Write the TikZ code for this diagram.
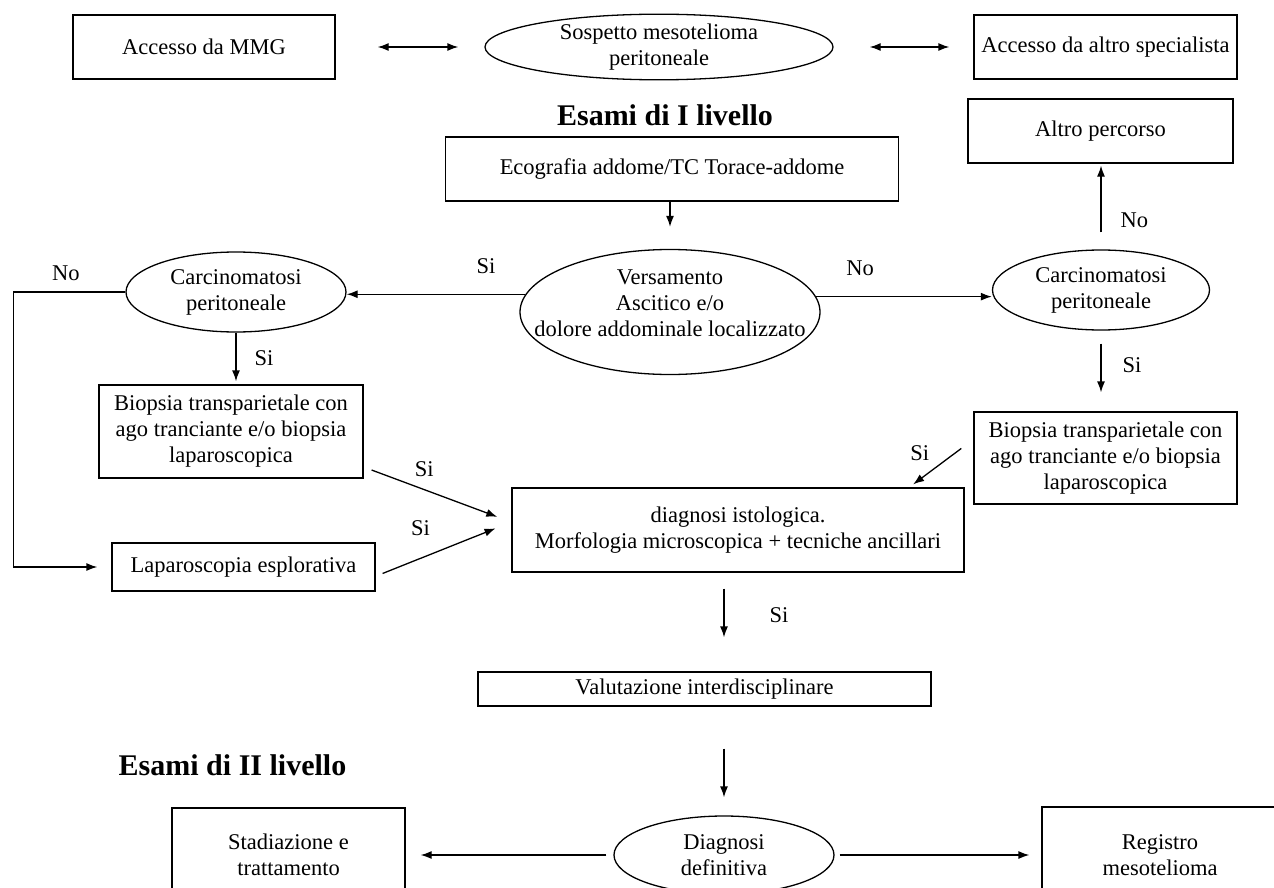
\documentclass[tikz,border=0pt]{standalone}
\usepackage{fontspec}
\setmainfont{Liberation Serif}
\usetikzlibrary{shapes.geometric,arrows.meta}

\begin{document}
\begin{tikzpicture}[x=1pt,y=-1pt,>={Latex[length=11pt,width=8pt]},line width=1.3pt,
	every node/.style={font=\fontsize{22.5}{26}\selectfont},
	box/.style={draw,rectangle,inner sep=0pt,align=center},
	oval/.style={draw,ellipse,inner sep=0pt,align=center},
	titolo/.style={font=\fontsize{30}{34}\selectfont\bfseries},
	lbl/.style={inner sep=0pt}]
	%%
	\useasboundingbox (0,0) rectangle (1274,888);
	\clip (0,0) rectangle (1274,888);

	\node[box,minimum width=262pt,minimum height=64pt] (mmg) at (204,47) {Accesso da MMG};
	\node[oval,minimum width=348pt,minimum height=64pt] (sosp) at (659,47) {Sospetto mesotelioma\\peritoneale};
	\node[box,minimum width=263pt,minimum height=64pt] (spec) at (1105.5,47) {Accesso da altro specialista};

	\node[titolo] (liv1) at (665,115) {Esami di I livello};
	\node[box,minimum width=453pt,minimum height=64pt] (eco) at (672,169) {Ecografia addome/TC Torace-addome};
	\node[box,minimum width=265pt,minimum height=64pt] (altro) at (1100.5,131) {Altro percorso};

	\node[oval,minimum width=300pt,minimum height=125pt,
	  label={[align=center,yshift=9pt]center:{Versamento\\Ascitico e/o\\dolore addominale localizzato}}] (vers) at (670,312) {};
	\node[oval,minimum width=220pt,minimum height=80pt] (carcL) at (236,292) {Carcinomatosi\\peritoneale};
	\node[oval,minimum width=217pt,minimum height=80pt] (carcR) at (1101,290) {Carcinomatosi\\peritoneale};

	\node[box,minimum width=264pt,minimum height=93pt] (biopL) at (231,431.5) {Biopsia transparietale con\\ago tranciante e/o biopsia\\laparoscopica};
	\node[box,minimum width=263pt,minimum height=92pt] (biopR) at (1105.5,458) {Biopsia transparietale con\\ago tranciante e/o biopsia\\laparoscopica};
	\node[box,minimum width=263pt,minimum height=48pt] (lapar) at (243.5,567) {Laparoscopia esplorativa};
	\node[box,minimum width=452pt,minimum height=84pt] (diag) at (738,530) {diagnosi istologica.\\Morfologia microscopica + tecniche ancillari};
	\node[box,minimum width=453pt,minimum height=34pt] (valut) at (704.5,689) {Valutazione interdisciplinare};

	\node[titolo] (liv2) at (232.5,765) {Esami di II livello};
	\node[oval,minimum width=220pt,minimum height=78pt] (ddef) at (724,855) {Diagnosi\\definitiva};
	\node[box,minimum width=233pt,minimum height=94pt] (stad) at (288.5,855) {Stadiazione e\\trattamento};
	\node[box,minimum width=236pt,minimum height=96pt] (regis) at (1160,855) {Registro\\mesotelioma};

	% frecce
	\draw[<->,shorten <=42pt,shorten >=26pt] (mmg.east) -- (sosp.west);
	\draw[<->,shorten <=36pt,shorten >=24pt] (sosp.east) -- (spec.west);
	\draw[->,shorten >=22pt] (eco.south -| vers.north) -- (vers.north);

	\draw[->] (vers.173) -- node[lbl,pos=0.22,above=20pt] (si1) {Si} (vers.173 -| carcL.east);
	\draw[->] (vers.6) -- node[lbl,pos=0.25,above=20pt] (no1) {No} (vers.6 -| carcR.west);

	\draw[->,shorten >=14pt] (carcL.west) -- node[lbl,pos=0.53,above=11pt] (no2) {No} ++(-112,0) |- (lapar.west);
	\draw[->,shorten >=3pt] (carcL.south) -- node[lbl,pos=0.49,right=18pt] (si2) {Si} (carcL.south |- biopL.north);
	\draw[->,shorten <=13pt,shorten >=19pt] (carcR.south) -- node[lbl,pos=0.43,right=21pt] (si3) {Si} (carcR.south |- biopR.north);
	\draw[->,shorten <=17pt,shorten >=2pt] (carcR.north) -- node[lbl,pos=0.34,right=19pt] (no3) {No} (carcR.north |- altro.south);

	\draw[->,shorten <=8.5pt,shorten >=15pt] (biopL.-15) -- node[lbl,pos=0.41,above=12pt] (si4) {Si} (diag.178);
	\draw[->,shorten <=7.5pt,shorten >=17pt] (lapar.-4) -- node[lbl,pos=0.33,above=22pt] (si5) {Si} (diag.178);
	\draw[->,shorten <=15pt,shorten >=5pt] (biopR.172) -- node[lbl,pos=0.29,left=25pt] (si6) {Si} (diag.14);

	\draw[->,shorten <=16pt,shorten >=34pt] (diag.south -| ddef.north) -- node[lbl,pos=0.43,right=45pt] (si7) {Si} (valut.north -| ddef.north);
	\draw[->,shorten <=42pt,shorten >=18pt] (valut.south -| ddef.north) -- (ddef.north);
	\draw[->,shorten <=7pt,shorten >=15pt] (ddef.west) -- (stad.east);
	\draw[->,shorten <=5pt,shorten >=12pt] (ddef.east) -- (regis.west);
	%
\end{tikzpicture}
\end{document}
